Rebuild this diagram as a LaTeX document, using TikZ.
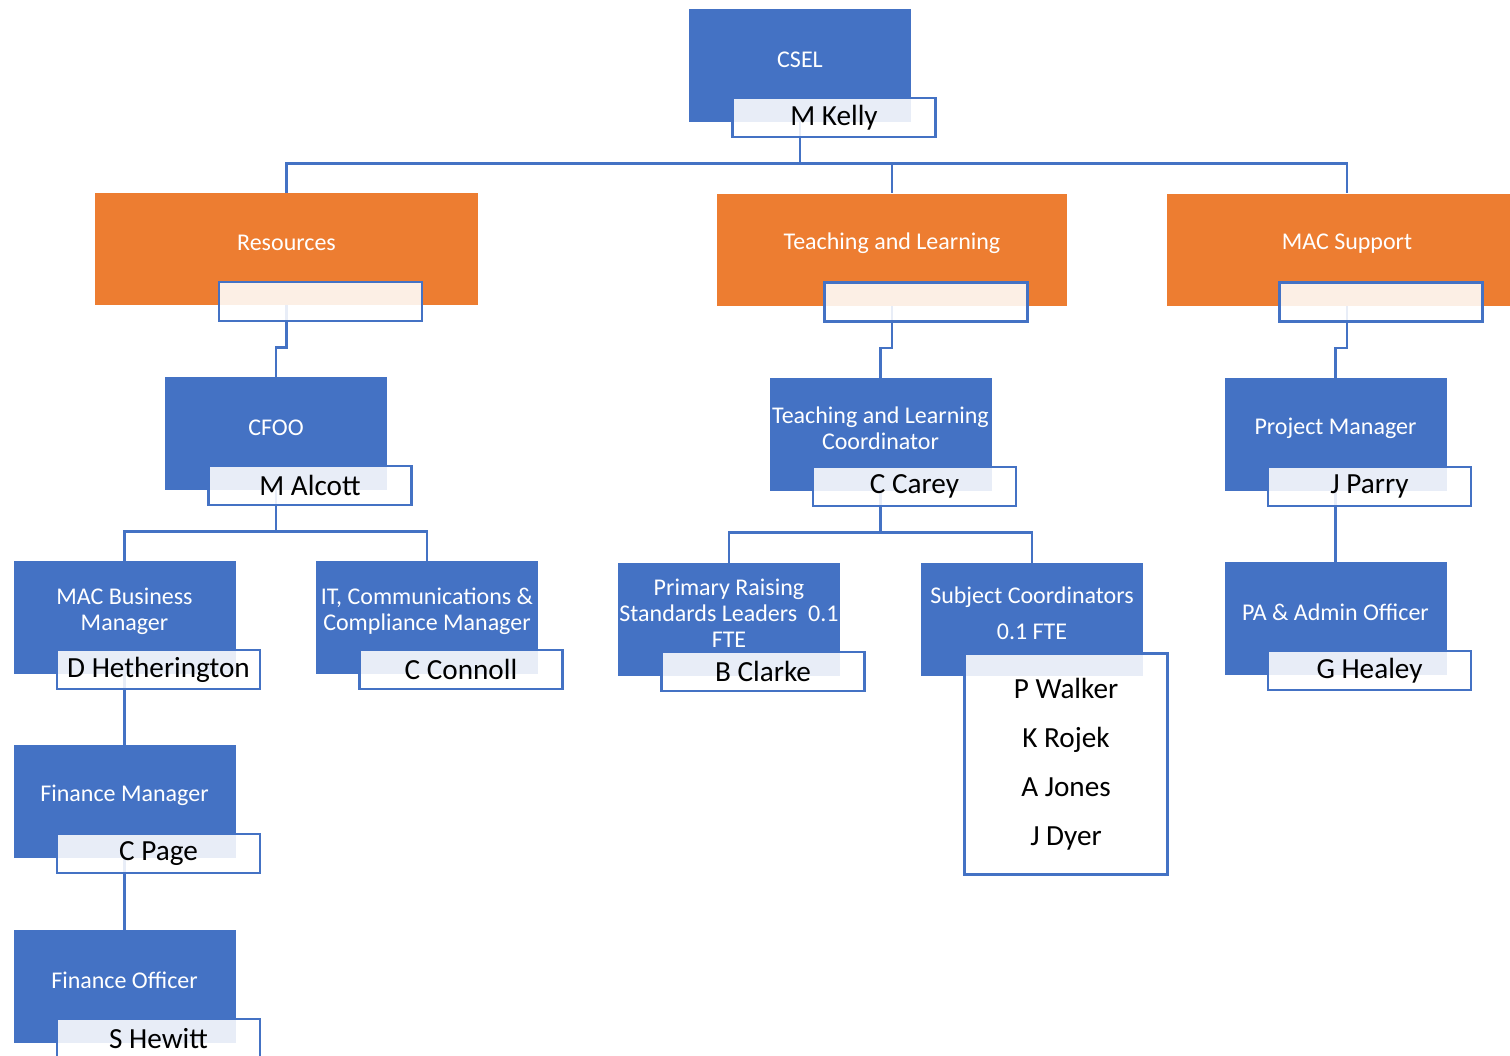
\documentclass[tikz,border=0pt]{standalone}
\usepackage{fontspec}
\setmainfont{Carlito}
\definecolor{roleblue}{HTML}{4472C4}
\definecolor{unitorange}{HTML}{ED7D31}

\begin{document}
\begin{tikzpicture}[x=0.5pt, y=-0.5pt,
    roletext/.style={text=white, font=\fontsize{12}{13}\selectfont, align=center, yshift=3pt},
    rolebox/.style={fill=roleblue, minimum width=111pt, minimum height=56.5pt, inner sep=0pt, label={[roletext]center:#1}},
    unitbox/.style={fill=unitorange, minimum height=56pt, inner sep=0pt, label={[roletext]center:#1}},
    namebox/.style={draw=roleblue, line width=1.3pt, fill=white, fill opacity=0.88, text opacity=1,
        minimum width=101.5pt, minimum height=19.5pt, inner sep=0pt, align=center,
        font=\fontsize{14.6}{24.5}\selectfont},
    link/.style={draw=roleblue, line width=1.15pt}]
    \useasboundingbox (0,0) rectangle (1510,1055);
    \clip (0,0) rectangle (1510,1055);

    % head and units
    \node[rolebox=CSEL] (csel) at (800,65.5) {};
    \node[unitbox=Resources, minimum width=191.5pt] (res) at (286.5,249) {};
    \node[unitbox=Teaching and Learning, minimum width=175pt] (tl) at (892,249.5) {};
    \node[unitbox=MAC Support, minimum width=180pt] (mac) at (1347,249.5) {};

    % roles
    \node[rolebox=CFOO] (cfoo) at (276,433.5) {};
    \node[rolebox={Teaching and Learning\\Coordinator}] (tlc) at (880.5,434.5) {};
    \node[rolebox=Project Manager] (pm) at (1335.5,434.5) {};
    \node[rolebox={MAC Business\\Manager}] (mbm) at (124.5,617.5) {};
    \node[rolebox={IT, Communications \&\\Compliance Manager}] (itc) at (427,617.5) {};
    \node[rolebox={Primary Raising\\Standards Leaders~~0.1\\FTE}] (prs) at (729,619.5) {};
    \node[rolebox={Subject Coordinators\\[5pt]0.1 FTE}] (sc) at (1032,619.5) {};
    \node[rolebox={PA \& Admin Officer}] (pa) at (1335.5,618.5) {};
    \node[rolebox=Finance Manager] (fm) at (124.5,801.5) {};
    \node[rolebox=Finance Officer] (fo) at (124.5,986.5) {};

    % lines
    \draw[link] (csel.south) -- ++(0,41) coordinate (hub);
    \draw[link] (hub) -| (res.north);
    \draw[link] (hub) -| (tl.north);
    \draw[link] (hub) -| (mac.north);
    \draw[link] (res.south) -- ++(0,42) -| (cfoo.north);
    \draw[link] (tl.south) -- ++(0,42) -| (tlc.north);
    \draw[link] (mac.south) -- ++(0,42) -| (pm.north);
    \draw[link] (cfoo.south) -- ++(0,41) coordinate (cfoohub);
    \draw[link] (cfoohub) -| (mbm.north);
    \draw[link] (cfoohub) -| (itc.north);
    \draw[link] (tlc.south) -- ++(0,41) coordinate (tlchub);
    \draw[link] (tlchub) -| (prs.north);
    \draw[link] (tlchub) -| (sc.north);
    \draw[link] (pm.south) -- (pa.north);
    \draw[link] (mbm.south) -- (fm.north);
    \draw[link] (fm.south) -- (fo.north);

    % names
    \node[namebox] (kelly) at ([shift={(34,-5)}]csel.south) {M Kelly};
    \node[namebox] (resname) at ([shift={(34,-4)}]res.south) {};
    \node[namebox] (tlname) at ([shift={(34,-4)}]tl.south) {};
    \node[namebox] (macname) at ([shift={(34,-4)}]mac.south) {};
    \node[namebox] (alcott) at ([shift={(34,-5)}]cfoo.south) {M Alcott};
    \node[namebox] (carey) at ([shift={(34,-5)}]tlc.south) {C Carey};
    \node[namebox] (parry) at ([shift={(34,-5)}]pm.south) {J Parry};
    \node[namebox] (hetherington) at ([shift={(34,-5)}]mbm.south) {D Hetherington};
    \node[namebox] (connoll) at ([shift={(34,-5)}]itc.south) {C Connoll};
    \node[namebox] (clarke) at ([shift={(34,-5)}]prs.south) {B Clarke};
    \node[namebox, anchor=north, minimum height=110.5pt] (coords) at ([shift={(34,-24)}]sc.south)
        {P Walker\\K Rojek\\A Jones\\J Dyer};
    \node[namebox] (healey) at ([shift={(34,-5)}]pa.south) {G Healey};
    \node[namebox] (page) at ([shift={(34,-5)}]fm.south) {C Page};
    \node[namebox] (hewitt) at ([shift={(34,-5)}]fo.south) {S Hewitt};
\end{tikzpicture}
\end{document}
